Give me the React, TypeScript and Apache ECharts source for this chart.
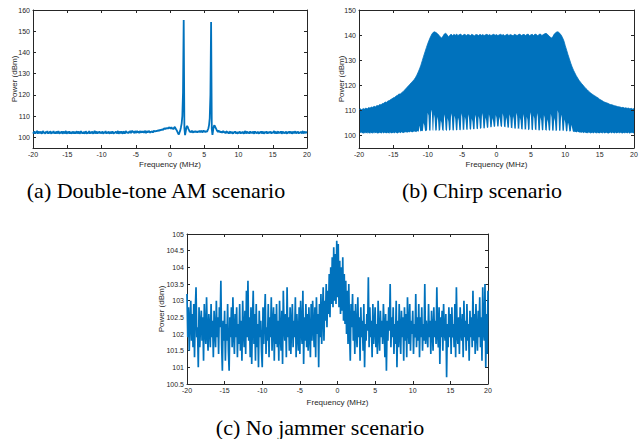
import React, { useEffect, useRef } from "react";
import * as echarts from "echarts";

// ---------- data ----------
const freqMin = -20;
const freqMax = 20;
const freqInterval = 5;
const stepA = 0.1;
const stepUpper = 0.2;
const stepLower = 0.1;
const stepC = 0.1;

const powerTicksA = [100, 110, 120, 130, 140, 150, 160];
const powerTicksB = [100, 110, 120, 130, 140, 150];

const captionA = "(a) Double-tone AM scenario";
const captionB = "(b) Chirp scenario";
const captionC = "(c) No jammer scenario";
const xName = "Frequency (MHz)";
const yName = "Power (dBm)";

// (a) double-tone AM, -20..20 MHz step 0.1
const powerA = [
  102.4,101.9,102.9,101.7,102.6,102.1,103.1,101.7,102.5,102.7,101.9,102.8,102.1,101.7,102.6,103.0,101.9,102.4,101.7,102.8,
  102.1,103.0,101.7,102.5,102.0,102.9,102.3,101.7,102.6,102.1,103.0,101.8,102.5,101.7,102.8,102.2,101.9,103.0,102.1,101.7,
  102.7,102.0,102.9,101.7,102.3,102.8,101.8,102.5,103.0,101.7,102.2,102.7,101.9,102.9,101.7,102.5,102.2,101.8,102.8,102.1,
  101.9,102.7,101.7,102.5,102.9,101.8,102.3,102.8,101.7,102.2,103.0,101.9,102.5,101.7,102.7,102.1,101.8,102.9,102.3,101.7,
  102.5,102.0,103.0,101.7,102.6,101.9,102.8,102.2,101.7,102.5,103.1,101.8,102.3,102.8,101.7,102.6,102.0,102.9,101.9,102.5,
  101.8,102.8,102.1,101.7,102.6,102.2,103.0,101.7,102.5,101.9,102.8,102.1,101.7,102.6,102.3,101.8,102.9,102.1,101.7,102.5,
  102.2,102.8,101.8,102.5,103.0,101.7,102.3,102.7,101.9,102.9,102.1,101.7,102.8,102.4,101.8,102.6,103.0,102.1,102.5,101.9,
  102.8,102.2,103.1,102.0,102.6,103.2,102.3,102.9,101.9,103.0,102.5,102.1,103.1,102.3,102.8,102.0,103.0,102.5,102.2,102.9,
  102.3,103.0,102.1,102.8,103.1,102.0,102.6,102.9,102.3,103.1,102.7,102.1,102.9,102.4,103.0,102.3,102.8,103.2,102.6,103.1,
  102.8,103.3,102.9,103.5,103.0,103.6,103.2,103.8,103.3,104.0,103.5,104.1,104.3,103.8,104.4,104.0,104.6,104.1,104.5,104.8,
  104.4,104.1,104.8,104.0,104.5,103.8,104.6,104.9,104.3,103.7,103.2,102.5,101.7,101.4,102.4,103.3,104.8,106.5,110.0,121.0,
  155.3,104.5,101.1,102.8,104.8,105.4,104.8,103.9,103.3,102.5,103.0,102.3,103.2,102.6,102.2,103.0,102.4,103.1,102.5,102.9,
  102.3,103.0,102.5,103.2,102.4,102.9,103.1,102.3,102.8,103.3,102.5,103.0,102.4,103.1,102.6,103.4,104.2,105.8,109.0,120.0,
  154.3,104.0,101.2,103.5,105.3,105.7,104.9,104.3,103.6,103.0,102.6,103.3,102.4,103.0,102.3,102.9,102.1,102.7,103.0,102.2,
  102.8,101.9,102.6,102.9,102.0,102.7,101.7,102.5,102.8,101.9,102.6,102.2,101.7,102.7,102.1,102.9,101.8,102.5,102.2,101.7,
  102.6,102.0,102.8,101.7,102.5,101.9,102.7,102.2,101.7,102.6,103.0,101.8,102.3,102.8,101.9,102.5,101.7,102.9,102.1,102.6,
  101.9,102.8,102.2,101.7,102.9,102.1,102.5,101.8,102.7,102.2,101.7,102.6,102.0,102.9,101.8,102.5,102.7,101.7,102.3,102.6,
  102.0,102.9,101.7,102.5,101.9,102.7,102.2,102.8,101.7,102.5,102.1,102.6,103.0,101.8,102.3,102.7,101.7,102.5,102.8,101.9,
  102.6,102.0,102.9,101.7,102.3,102.7,101.9,102.5,101.8,102.8,102.2,101.7,102.6,102.0,102.9,101.9,102.5,102.7,101.7,102.3,
  102.7,101.9,102.5,102.9,101.8,102.6,102.1,102.8,101.7,102.5,102.2,102.7,101.8,102.6,102.9,101.9,102.3,102.7,102.0,102.5,
  102.3,
];

// (b) chirp: upper envelope, -20..20 MHz step 0.2
const chirpUpper = [
  110.3,110.6,110.2,110.7,110.5,110.9,110.6,111.1,110.9,111.3,
  111.2,111.6,111.4,111.9,111.8,112.3,112.2,112.7,112.8,113.3,
  113.2,113.7,113.9,114.3,114.6,115.0,115.2,115.7,116.0,116.5,
  116.5,117.0,117.4,118.0,118.6,119.2,119.8,120.4,121.0,121.6,
  122.2,123.0,124.0,125.2,126.5,128.0,129.8,131.6,133.3,135.0,
  136.6,138.0,139.3,140.4,141.1,141.3,141.0,140.6,140.0,139.3,
  138.8,139.5,140.4,140.7,140.2,139.3,139.8,140.4,139.7,140.3,
  139.9,140.4,139.8,140.2,140.4,139.7,140.1,140.3,139.8,140.2,
  140.1,139.8,140.3,140.0,139.7,140.2,140.1,139.8,140.3,139.9,
  140.2,139.8,140.1,140.3,139.9,140.2,139.8,140.1,140.3,139.9,
  140.2,139.8,140.1,140.3,139.9,140.2,139.7,140.1,140.3,139.8,
  140.2,140.0,139.7,140.3,140.1,139.8,140.2,140.4,139.8,140.1,
  140.3,139.8,140.2,140.4,139.7,140.1,140.3,139.8,140.4,140.2,
  139.7,140.3,140.4,139.8,140.2,140.5,140.7,140.3,139.8,139.2,
  138.8,139.4,140.4,140.9,141.3,141.2,140.7,140.0,139.0,137.7,
  135.8,134.0,132.2,130.5,128.8,127.3,126.0,124.9,123.8,122.9,
  122.0,121.3,120.6,120.0,119.3,118.7,118.2,117.6,117.1,116.7,
  116.3,115.9,115.6,115.2,114.9,114.4,114.1,113.8,113.4,113.2,
  113.0,112.8,112.5,112.3,112.2,112.0,111.8,111.7,111.5,111.4,
  111.3,111.1,111.2,110.9,111.0,110.8,110.9,110.6,110.8,110.5,
  110.7,
];

// (b) chirp: lower envelope, -20..20 MHz step 0.1
const chirpLower = [
  101.0,100.7,101.2,100.9,101.3,100.8,101.1,100.6,101.0,101.2,
  100.8,101.1,100.7,101.3,100.9,101.0,100.6,101.2,100.9,101.1,
  100.7,101.0,101.3,100.8,101.1,100.9,101.2,100.7,101.0,100.8,
  101.2,100.9,101.1,100.7,101.3,101.0,100.8,101.2,100.9,101.1,
  100.8,101.2,100.9,101.0,100.7,101.3,101.0,100.8,101.1,100.9,
  101.2,100.8,101.0,101.3,100.9,101.1,100.7,101.2,101.0,101.3,
  100.9,101.1,101.4,101.0,101.2,100.9,101.3,101.1,101.5,101.2,
  101.3,101.1,101.5,101.2,101.4,101.6,101.3,101.5,101.2,101.6,
  101.4,101.7,101.5,101.3,101.6,101.8,101.5,101.7,104.0,101.8,
  101.6,101.9,101.7,102.0,105.0,104.0,102.0,101.7,101.9,102.1,
  109.0,108.0,102.1,101.9,102.0,110.3,109.0,102.1,101.9,108.5,
  107.0,101.8,102.2,101.9,107.5,106.0,101.8,102.0,102.2,106.0,
  105.0,102.2,102.0,101.8,108.5,107.0,102.3,101.9,102.0,107.0,
  105.5,101.9,102.1,102.3,108.8,107.5,102.2,101.9,102.3,108.0,
  106.5,102.3,102.0,102.2,107.2,106.0,102.1,102.3,102.0,108.8,
  107.5,102.1,102.4,102.2,107.5,106.2,102.5,102.2,102.4,108.5,
  107.0,102.6,102.3,102.5,106.8,105.5,102.4,102.6,102.5,108.3,
  107.0,102.8,102.5,102.7,107.8,106.5,102.6,102.8,103.0,108.9,
  107.5,103.0,102.7,103.1,107.2,106.0,103.2,103.0,103.3,108.5,
  107.0,103.4,103.2,103.5,107.0,105.8,103.6,103.4,103.7,108.2,
  107.0,103.8,103.5,103.7,107.5,106.2,103.8,103.4,103.6,108.8,
  107.5,103.3,103.6,103.2,107.3,106.0,103.1,103.3,103.0,108.5,
  107.2,102.9,103.1,102.8,107.8,106.5,102.7,102.9,102.6,109.0,
  107.8,102.6,102.9,102.5,107.2,106.0,102.4,102.6,102.3,108.6,
  107.0,102.3,102.6,102.2,107.5,106.3,102.1,102.3,102.5,109.2,
  108.0,102.4,102.1,102.3,108.0,106.8,102.2,102.4,102.1,108.9,
  107.5,102.0,102.2,101.9,107.3,106.0,102.3,102.0,102.2,108.2,
  107.0,102.1,102.2,101.8,106.5,105.2,102.2,101.9,102.1,108.7,
  107.2,101.8,102.1,101.9,107.0,105.8,101.8,102.0,101.9,110.0,
  108.8,102.1,101.8,102.0,108.4,107.0,102.0,101.8,102.1,106.5,
  105.0,101.9,101.6,101.8,105.2,104.0,101.5,101.8,101.6,104.3,
  103.0,101.7,101.4,101.6,101.3,101.5,101.2,101.4,101.6,101.3,
  101.4,101.1,101.3,101.0,101.2,101.4,100.9,101.1,101.3,101.0,
  101.2,100.9,101.1,100.8,101.3,101.0,101.2,100.7,101.1,100.9,
  101.2,100.8,101.0,101.3,100.9,101.1,100.7,101.2,100.9,101.0,
  100.8,101.2,100.9,101.1,100.7,101.3,101.0,100.8,101.1,100.9,
  101.2,100.8,101.0,100.7,101.1,100.9,101.3,100.8,101.0,101.2,
  100.9,101.1,100.7,101.2,101.0,100.8,101.1,100.9,101.3,100.8,
  101.0,101.2,100.9,100.7,101.1,101.0,100.8,101.2,100.9,101.1,
  100.8,101.0,101.2,100.9,100.7,101.1,100.9,101.2,101.0,100.8,
  101.0,
];

// (c) no jammer, -20..20 MHz step 0.1
const powerC = [
  103.2,101.9,102.8,101.5,102.4,103.0,101.8,102.6,101.6,102.9,
  101.3,102.7,103.4,101.9,102.2,101.0,102.8,101.6,102.3,102.7,
  101.8,102.5,101.2,102.9,102.1,101.7,103.1,102.0,101.5,102.6,
  102.2,101.6,102.9,101.9,102.4,101.3,102.7,102.1,101.6,103.0,
  101.9,102.5,101.4,102.8,102.2,103.6,101.7,100.9,102.4,101.8,
  102.7,101.2,102.3,101.8,102.9,101.5,100.9,102.5,101.9,102.8,
  101.6,103.1,102.0,101.4,102.6,101.9,102.8,101.3,102.3,101.7,
  102.9,101.5,102.4,101.2,103.0,102.1,101.6,102.7,101.4,103.3,
  101.9,103.6,101.8,102.5,101.3,102.8,101.1,102.4,103.3,101.7,
  102.6,101.2,102.9,101.6,102.3,101.0,102.7,101.9,102.4,101.5,
  101.0,102.8,101.7,102.5,103.2,101.4,102.2,101.8,102.9,101.3,
  102.5,101.9,103.1,101.5,102.3,102.8,101.2,102.6,101.7,102.9,
  101.6,102.4,101.2,103.0,102.0,101.5,102.7,101.1,103.3,102.2,
  101.8,102.6,101.3,103.4,101.9,102.5,101.5,102.8,101.4,102.3,
  102.9,101.6,102.4,101.9,103.1,101.3,102.6,102.0,101.5,102.8,
  101.4,103.0,102.1,101.7,103.3,101.1,102.5,101.8,102.9,101.6,
  102.6,101.5,102.8,102.0,101.3,102.9,101.8,103.0,102.2,101.6,
  102.8,101.3,103.1,102.0,102.6,101.0,102.9,101.9,103.2,101.7,
  102.6,103.4,101.8,103.0,102.4,103.5,102.2,103.3,102.6,103.8,
  102.5,104.0,102.9,104.3,102.8,104.6,103.0,104.4,102.9,104.8,
  103.1,104.7,102.8,104.2,102.6,104.0,102.7,104.3,102.4,103.8,
  102.3,103.6,102.0,103.3,101.7,103.5,102.1,101.2,102.9,102.2,
  103.2,101.8,102.7,101.4,102.9,102.1,101.6,103.1,101.9,102.5,
  101.2,102.8,101.9,102.4,101.5,102.9,101.0,102.3,101.8,102.6,
  102.1,103.7,101.6,102.8,101.9,102.4,101.3,102.9,101.7,102.2,
  102.8,101.6,102.3,101.4,103.0,102.0,101.5,102.7,101.9,102.4,
  101.7,102.9,102.2,101.3,102.6,100.9,102.4,101.8,102.8,102.1,
  103.5,101.6,102.5,101.9,102.8,101.4,102.3,101.7,103.0,101.0,
  102.4,101.6,102.9,102.0,101.4,102.7,101.9,102.5,101.2,102.8,
  101.8,102.6,101.3,103.1,102.2,101.7,102.9,101.5,102.4,102.0,
  102.7,101.4,102.3,101.9,103.2,101.6,102.5,101.8,102.9,101.3,
  102.5,101.9,102.8,101.5,102.3,101.8,103.5,101.7,102.4,102.0,
  101.6,102.9,101.9,102.4,101.4,102.7,102.1,101.5,102.8,101.9,
  102.4,101.7,103.4,102.0,101.6,102.8,101.1,102.5,101.9,102.7,
  101.5,102.9,102.1,101.8,102.6,100.7,102.3,101.6,102.8,101.9,
  102.6,101.4,102.8,101.9,102.3,101.6,102.9,101.3,103.4,102.0,
  101.7,102.5,101.4,102.8,102.1,101.8,102.6,101.3,103.0,101.9,
  102.4,101.5,102.9,101.8,102.3,101.2,102.7,101.9,102.5,101.6,
  103.3,101.8,102.6,101.4,102.9,102.0,101.5,102.7,101.9,103.1,
  101.6,102.5,101.2,103.4,102.1,101.8,103.5,101.0,102.6,101.4,
  103.3,
];

// ---------- styling ----------
const BLUE = "#0072BD";
const AX = "#262626";
const SANS = "'Liberation Sans', Arial, sans-serif";
const SERIF = "'Liberation Serif', 'Times New Roman', serif";

const pairs = (vals: number[], step: number) =>
  vals.map((v, i) => [Math.round((freqMin + i * step) * 1000) / 1000, v]);

function xAxesFor(gridIndex: number, nameGap: number) {
  const common = {
    gridIndex,
    type: "value",
    min: freqMin,
    max: freqMax,
    interval: freqInterval,
    splitLine: { show: false },
    axisLine: { show: true, onZero: false, lineStyle: { color: AX, width: 1 } },
    axisTick: { show: true, inside: true, length: 3, lineStyle: { color: AX } },
  };
  return [
    {
      ...common,
      position: "bottom",
      axisLabel: { fontSize: 7, color: AX, margin: 3, fontFamily: SANS },
      name: xName,
      nameLocation: "middle",
      nameGap,
      nameTextStyle: { fontSize: 8, color: AX, fontFamily: SANS },
    },
    { ...common, position: "top", axisLabel: { show: false } },
  ];
}

function yAxesFor(
  gridIndex: number,
  min: number,
  max: number,
  nameGap: number,
  ticks?: number[],
  interval?: number
) {
  const common: any = {
    gridIndex,
    type: "value",
    min,
    max,
    splitLine: { show: false },
    axisLine: { show: true, onZero: false, lineStyle: { color: AX, width: 1 } },
    axisTick: { show: true, inside: true, length: 3, lineStyle: { color: AX } },
  };
  if (interval) common.interval = interval;
  if (ticks) common.axisTick.customValues = ticks;
  const label: any = { fontSize: 7, color: AX, margin: 3, fontFamily: SANS };
  if (ticks) label.customValues = ticks;
  return [
    {
      ...common,
      position: "left",
      axisLabel: label,
      name: yName,
      nameLocation: "middle",
      nameGap,
      nameMoveOverlap: false,
      nameTextStyle: { fontSize: 8, color: AX, fontFamily: SANS },
    },
    { ...common, position: "right", axisLabel: { show: false } },
  ];
}

function caption(text: string, x: number, y: number) {
  return {
    type: "text",
    x,
    y,
    style: {
      text,
      fill: "#000",
      font: `22px ${SERIF}`,
      textAlign: "center",
      textVerticalAlign: "middle",
    },
  };
}

export default function App() {
  const ref = useRef<HTMLDivElement>(null);
  useEffect(() => {
    if (!ref.current) return;
    const chart = echarts.init(ref.current, undefined, { renderer: "svg" });
    const xs = [...xAxesFor(0, 12), ...xAxesFor(1, 12), ...xAxesFor(2, 14)];
    const ys = [
      ...yAxesFor(0, 95, 160, 15, powerTicksA),
      ...yAxesFor(1, 95, 150, 14, powerTicksB),
      ...yAxesFor(2, 100.5, 105, 22, undefined, 0.5),
    ];
    // chirp axes on top of the fill
    [2, 3].forEach((i) => ((xs[i] as any).z = 3));
    [2, 3].forEach((i) => ((ys[i] as any).z = 3));

    chart.setOption({
      animation: false,
      backgroundColor: "#fff",
      grid: [
        { left: 33, top: 10, width: 274, height: 138 },
        { left: 359, top: 10, width: 275, height: 138 },
        { left: 187, top: 234, width: 301, height: 150 },
      ],
      xAxis: xs,
      yAxis: ys,
      series: [
        {
          type: "line",
          xAxisIndex: 0,
          yAxisIndex: 0,
          data: pairs(powerA, stepA),
          symbol: "none",
          lineStyle: { color: BLUE, width: 1.8 },
          silent: true,
        },
        {
          type: "line",
          xAxisIndex: 2,
          yAxisIndex: 2,
          data: pairs(chirpUpper, stepUpper),
          symbol: "none",
          lineStyle: { color: BLUE, width: 0.8 },
          areaStyle: { color: BLUE, opacity: 1, origin: 99 },
          silent: true,
        },
        {
          type: "line",
          xAxisIndex: 2,
          yAxisIndex: 2,
          data: pairs(chirpLower, stepLower),
          symbol: "none",
          lineStyle: { width: 0, color: "#fff" },
          areaStyle: { color: "#ffffff", opacity: 1, origin: 98 },
          silent: true,
        },
        {
          type: "line",
          xAxisIndex: 4,
          yAxisIndex: 4,
          data: pairs(powerC, stepC),
          symbol: "none",
          lineStyle: { color: BLUE, width: 1.7 },
          silent: true,
        },
      ],
      graphic: [
        caption(captionA, 156, 190),
        caption(captionB, 482, 190),
        caption(captionC, 320, 427),
      ],
    });
    return () => chart.dispose();
  }, []);
  return (
    <div
      ref={ref}
      style={{ position: "absolute", left: 0, top: 0, width: 643, height: 439, background: "#fff" }}
    />
  );
}
